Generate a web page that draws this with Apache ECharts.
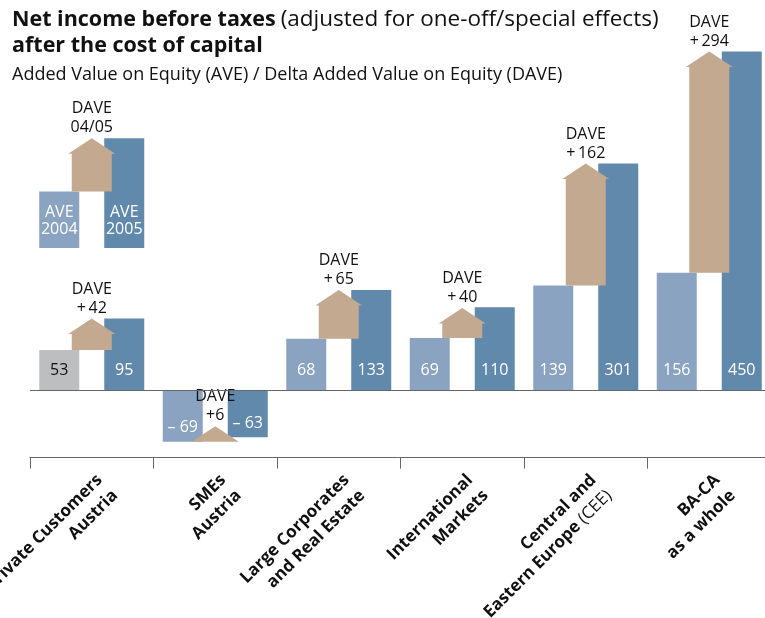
<!DOCTYPE html>
<html>
<head>
<meta charset="utf-8">
<script src="https://cdn.jsdelivr.net/npm/echarts@6/dist/echarts.min.js"></script>
<style>
  html, body { margin: 0; padding: 0; background: #ffffff; }
  #chart { width: 765px; height: 618px; }
</style>
</head>
<body>
<div id="chart"></div>
<script>
// Segments and their Added Value on Equity (EUR m)
const categories = [
  'Private Customers\nAustria',
  'SMEs\nAustria',
  'Large Corporates\nand Real Estate',
  'International\nMarkets',
  'Central and\nEastern Europe (CEE)',
  'BA-CA\nas a whole'
];
const ave2004 = [53, -69, 68, 69, 139, 156];
const ave2005 = [95, -63, 133, 110, 301, 450];
const dave = [42, 6, 65, 40, 162, 294];

// Key sample (top left): heights of the sample bars
const keyCategories = ['key'];
const keyAve2004 = [75];
const keyAve2005 = [146];
const keyLabels = ['AVE\n2004', 'AVE\n2005', 'DAVE\n04/05'];

const FONT = '"Open Sans", "Noto Sans", sans-serif';
const C_LIGHT = '#8aa3c1';
const C_DARK = '#6189ac';
const C_TAN = '#c2a98f';
const C_GREY = '#bcbec0';
const C_AXIS = '#666666';

function fmtValue(v) {
  return v < 0 ? '\u2013 ' + (-v) : String(v);
}
function fmtDave(v) {
  return 'DAVE\n+' + (v >= 10 ? '\u2009' : '') + v;
}

// Arrow from the 2004 level up by the DAVE amount
function arrowRenderer(params, api) {
  const from = api.value(1);
  const to = api.value(2);
  const pFrom = api.coord([api.value(0), from]);
  const pTo = api.coord([api.value(0), to]);
  const cx = pFrom[0];
  const half = 20, headHalf = 23.5, headH = 15.5;
  const base = pFrom[1];
  const apex = Math.min(pTo[1], base - headH);
  const shoulder = apex + headH;
  const points = [
    [cx - half, base], [cx - half, shoulder], [cx - headHalf, shoulder],
    [cx, apex], [cx + headHalf, shoulder], [cx + half, shoulder], [cx + half, base]
  ];
  return {
    type: 'group',
    children: [
      { type: 'polygon', shape: { points: points }, style: { fill: C_TAN } },
      {
        type: 'text', x: cx, y: apex - 1,
        style: {
          text: api.value(3),
          align: 'center', verticalAlign: 'bottom',
          fontSize: 16, lineHeight: 19, fontFamily: FONT, fill: '#111111'
        }
      }
    ]
  };
}

const mainArrows = ave2004.map((v, i) => [i, v, v + dave[i], fmtDave(dave[i])]);
const keyArrows = [[0, keyAve2004[0], keyAve2005[0], keyLabels[2]]];

const valueLabel = {
  show: true, position: 'insideBottom', distance: 11,
  fontSize: 16, fontFamily: FONT, color: '#ffffff',
  formatter: p => fmtValue(p.value)
};

function barItems(values, firstColor) {
  return values.map((v, i) => {
    const item = { value: v };
    if (i === 0 && firstColor) {
      item.itemStyle = { color: firstColor };
      item.label = { color: '#111111' };
    }
    if (v < 0) {
      item.label = Object.assign({}, item.label || {}, { distance: 6 });
    }
    return item;
  });
}

const chart = echarts.init(document.getElementById('chart'), null, { renderer: 'canvas' });
chart.setOption({
  backgroundColor: '#ffffff',
  animation: false,
  title: [
    {
      left: 12, top: 7, padding: 0,
      text: '{b|Net income before taxes} {r|(adjusted for one-off/special effects)}\n{b|after the cost of capital}',
      textStyle: {
        rich: {
          b: { fontFamily: FONT, fontWeight: 'bold', fontSize: 21.5, lineHeight: 26, color: '#111111' },
          r: { fontFamily: FONT, fontWeight: 'normal', fontSize: 22.5, lineHeight: 26, color: '#111111' }
        }
      }
    },
    {
      left: 12, top: 64, padding: 0,
      text: 'Added Value on Equity (AVE) / Delta Added Value on Equity (DAVE)',
      textStyle: { fontFamily: FONT, fontWeight: 'normal', fontSize: 18, lineHeight: 22, color: '#111111' }
    }
  ],
  grid: [
    { left: 30, width: 741, top: 29, height: 428.6, containLabel: false, outerBoundsMode: 'none' },
    { left: 30, width: 123.5, top: 135.2, height: 112.8, containLabel: false, outerBoundsMode: 'none' }
  ],
  xAxis: [
    {
      type: 'category', gridIndex: 0, data: categories,
      axisLine: { onZero: false, lineStyle: { color: C_AXIS, width: 1 } },
      axisTick: { show: true, alignWithLabel: false, length: 11, lineStyle: { color: C_AXIS } },
      axisLabel: {
        interval: 0, rotate: 45, margin: 12,
        align: 'right', verticalAlign: 'top',
        fontFamily: FONT, fontWeight: 'bold', fontSize: 17, color: '#111111', lineHeight: 22,
        formatter: v => v.replace('(CEE)', '{r|(CEE)}'),
        rich: { r: { fontFamily: FONT, fontWeight: 'normal', fontSize: 17, lineHeight: 22, color: '#111111' } }
      }
    },
    {
      type: 'category', gridIndex: 1, data: keyCategories, show: false
    }
  ],
  yAxis: [
    { type: 'value', gridIndex: 0, min: -90, max: 480, show: false, splitLine: { show: false } },
    { type: 'value', gridIndex: 1, min: 0, max: 150, show: false, splitLine: { show: false } }
  ],
  series: [
    {
      name: 'AVE 2004', type: 'bar', xAxisIndex: 0, yAxisIndex: 0,
      barWidth: 40, barGap: '62.5%',
      data: barItems(ave2004, C_GREY),
      itemStyle: { color: C_LIGHT },
      label: valueLabel,
      markLine: {
        silent: true, symbol: 'none', label: { show: false },
        lineStyle: { color: C_AXIS, width: 1, type: 'solid' },
        data: [{ yAxis: 0 }]
      },
      z: 2
    },
    {
      name: 'AVE 2005', type: 'bar', xAxisIndex: 0, yAxisIndex: 0,
      barWidth: 40, barGap: '62.5%',
      data: barItems(ave2005, null),
      itemStyle: { color: C_DARK },
      label: valueLabel,
      z: 2
    },
    {
      name: 'DAVE', type: 'custom', xAxisIndex: 0, yAxisIndex: 0,
      renderItem: arrowRenderer, data: mainArrows, z: 3,
      encode: { x: 0, y: [1, 2] }
    },
    {
      name: 'Key AVE 2004', type: 'bar', xAxisIndex: 1, yAxisIndex: 1,
      barWidth: 40, barGap: '62.5%',
      data: keyAve2004, itemStyle: { color: C_LIGHT },
      label: Object.assign({}, valueLabel, { lineHeight: 17, distance: 10, formatter: () => keyLabels[0] }),
      z: 2
    },
    {
      name: 'Key AVE 2005', type: 'bar', xAxisIndex: 1, yAxisIndex: 1,
      barWidth: 40, barGap: '62.5%',
      data: keyAve2005, itemStyle: { color: C_DARK },
      label: Object.assign({}, valueLabel, { lineHeight: 17, distance: 10, formatter: () => keyLabels[1] }),
      z: 2
    },
    {
      name: 'Key DAVE', type: 'custom', xAxisIndex: 1, yAxisIndex: 1,
      renderItem: arrowRenderer, data: keyArrows, z: 3,
      encode: { x: 0, y: [1, 2] }
    }
  ]
});
</script>
</body>
</html>
